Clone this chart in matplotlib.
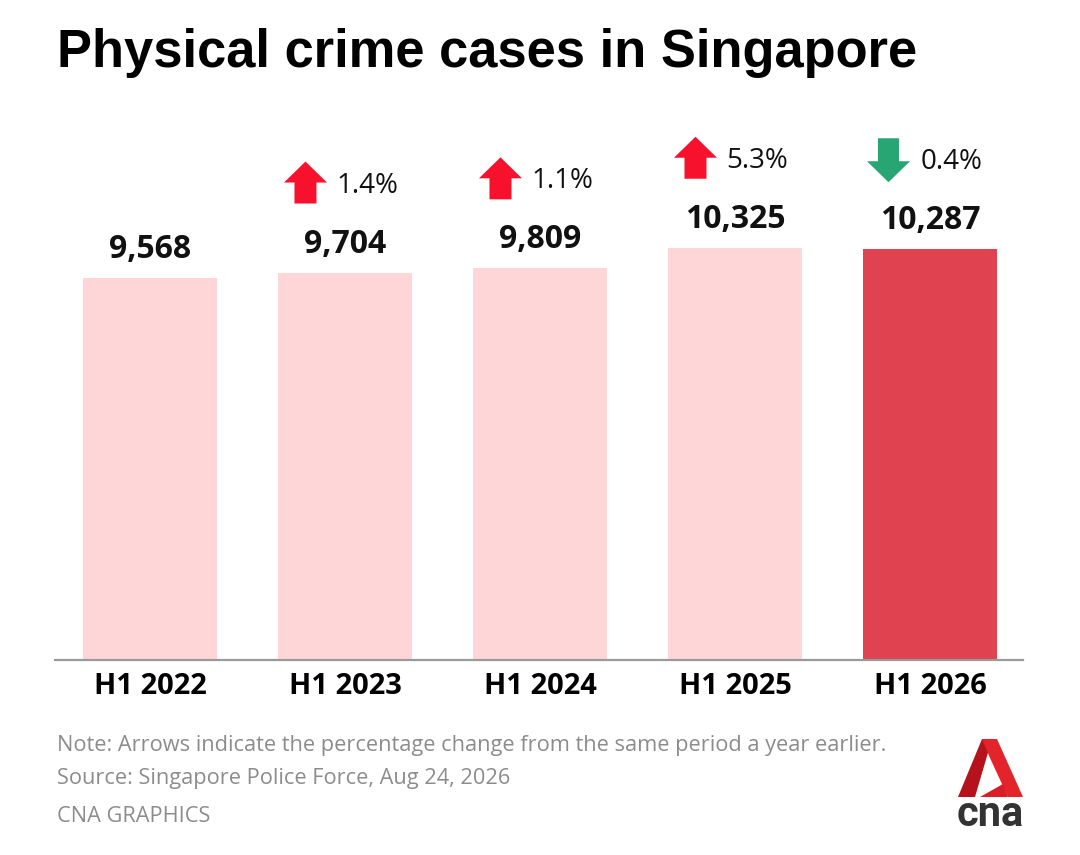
import matplotlib
matplotlib.use("Agg")
import matplotlib.pyplot as plt
import matplotlib.transforms as mtransforms
from matplotlib.patches import Polygon

periods = ["H1 2022", "H1 2023", "H1 2024", "H1 2025", "H1 2026"]
cases = [9568, 9704, 9809, 10325, 10287]
change_pct = [None, 1.4, 1.1, 5.3, -0.4]

W, H = 1080, 855
fig = plt.figure(figsize=(W / 100, H / 100), dpi=100)


def fx(x):
    return x / W


def fy(y):
    return 1 - y / H


ax = fig.add_axes([fx(55), fy(660), fx(1023) - fx(55), fy(140) - fy(660)])
colors = ["#ffd6d8"] * (len(cases) - 1) + ["#e04250"]
xs = list(range(len(cases)))
ax.bar(xs, cases, width=0.69, color=colors)
ax.set_xlim(-0.487, 4.477)
ax.set_ylim(0, 13023)

for s in ["top", "left", "right"]:
    ax.spines[s].set_visible(False)
ax.spines["bottom"].set_color("#9a9a9a")
ax.spines["bottom"].set_linewidth(1.6)
ax.set_yticks([])
ax.set_xticks(xs)
ax.set_xticklabels(periods, fontsize=21, fontweight="bold", family="Open Sans")
ax.tick_params(axis="x", length=0, pad=9)

up_red = "#f7112c"
down_green = "#27a673"

for x, v, pct in zip(xs, cases, change_pct):
    ax.annotate(f"{v:,}", (x, v), xytext=(0, 20), textcoords="offset pixels",
                ha="center", va="baseline", fontsize=23, fontweight="bold",
                family="Open Sans", color="#111111")
    if pct is None:
        continue
    anchor = mtransforms.Affine2D() + mtransforms.ScaledTranslation(x, v, ax.transData)
    if pct > 0:
        verts = [(-50.5, 69), (-28.5, 69), (-28.5, 90), (-18, 90),
                 (-39.5, 111), (-61, 90), (-50.5, 90)]
        col = up_red
    else:
        verts = [(-52, 111), (-31, 111), (-31, 88), (-20, 88),
                 (-41.5, 67), (-63, 88), (-52, 88)]
        col = down_green
    ax.add_patch(Polygon(verts, closed=True, facecolor=col, edgecolor="none",
                         transform=anchor, clip_on=False))
    ax.annotate(f"{abs(pct):.1f}%", (x, v), xytext=(-9, 80), textcoords="offset pixels",
                ha="left", va="baseline", fontsize=20, family="Open Sans",
                color="#111111")

fig.text(fx(57), fy(67), "Physical crime cases in Singapore", fontsize=37.8,
         fontweight="bold", family="Liberation Sans", va="baseline", ha="left")

grey = "#8c8c8c"
fig.text(fx(57), fy(751), "Note: Arrows indicate the percentage change from the same period a year earlier.",
         fontsize=15.7, color=grey, family="Open Sans", va="baseline")
fig.text(fx(57), fy(784), "Source: Singapore Police Force, Aug 24, 2026",
         fontsize=15.7, color=grey, family="Open Sans", va="baseline")
fig.text(fx(57), fy(822), "CNA GRAPHICS",
         fontsize=15.7, color=grey, family="Open Sans", va="baseline")

# logo
left_leg = [(958, 797), (982, 739), (992, 739), (975, 797)]
right_leg = [(982, 739), (997, 739), (1023, 797), (1008, 797), (990, 758)]
swoosh = [(980, 797), (1008, 797), (1003, 784)]
for pts, c in [(left_leg, "#b5121b"), (right_leg, "#e3242b"), (swoosh, "#d91c26")]:
    fig.patches.append(Polygon([(fx(a), fy(b)) for a, b in pts], closed=True,
                               facecolor=c, edgecolor="none", transform=fig.transFigure))
fig.text(fx(990), fy(826), "cna", fontsize=30, fontweight="bold", family="Roboto",
         color="#333333", ha="center", va="baseline")

fig.savefig("out.png", dpi=100)
